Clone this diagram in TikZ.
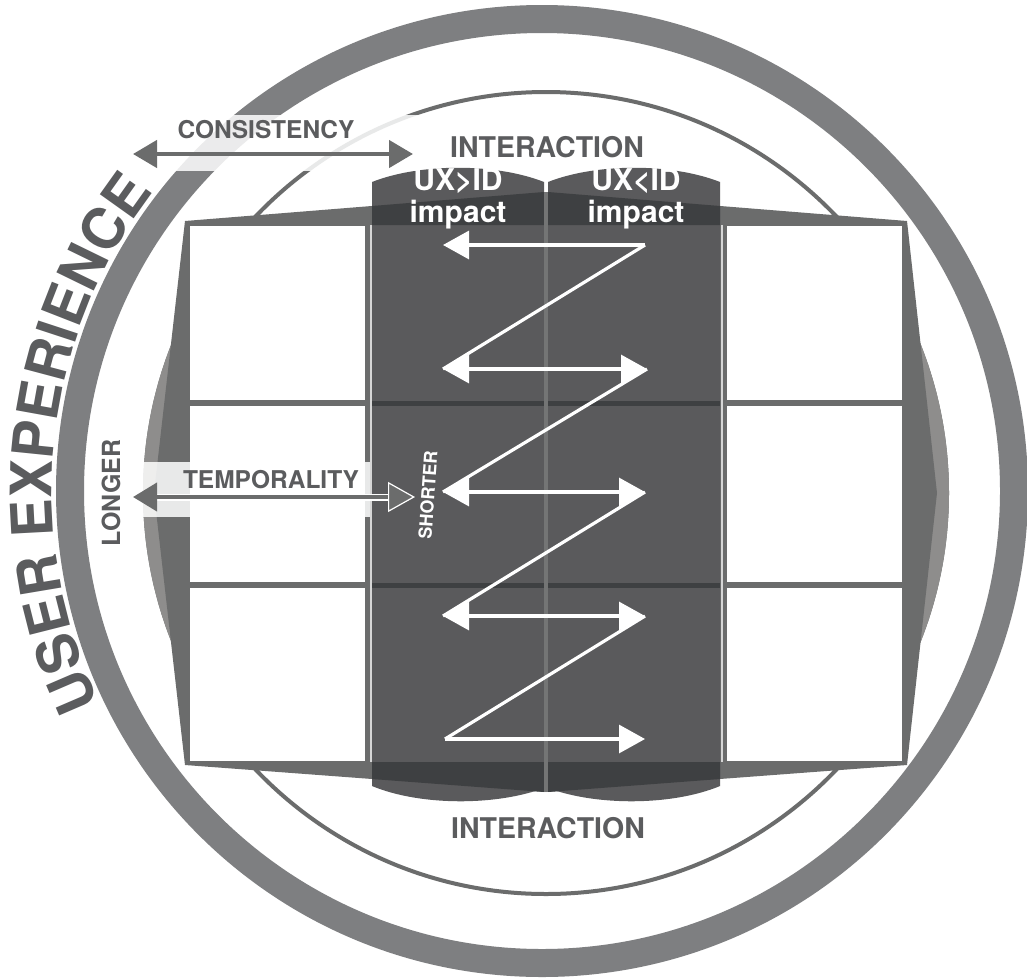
\documentclass[tikz,border=0pt]{standalone}
\usepackage{fontspec}
\setmainfont{TeX Gyre Heros}
\usetikzlibrary{arrows.meta,decorations.text,calc}
\definecolor{ringc}{HTML}{7E7F81}
\definecolor{framec}{HTML}{6B6C6C}
\definecolor{lensc}{HTML}{8E8D8C}
\definecolor{colc}{HTML}{5A5A5C}
\definecolor{bandc}{HTML}{3E4042}
\definecolor{txtc}{HTML}{5B5C5E}
\definecolor{divc}{HTML}{747575}
\definecolor{edgec}{HTML}{D6D6D6}
\newcommand\myUEfont{\fontsize{57}{60}\selectfont\bfseries}
\begin{document}
\begin{tikzpicture}[x=1pt,y=-1pt,
  lbl/.style={text=txtc, inner sep=0pt, font=\bfseries\fontsize{24.5}{26}\selectfont},
  biglbl/.style={text=txtc, inner sep=0pt, font=\bfseries\fontsize{28.5}{30}\selectfont},
  uxlbl/.style={text=white, inner sep=0pt, font=\bfseries\fontsize{30}{32}\selectfont},
  zz/.style={white, line width=3.2},
  wtipL/.style={{Triangle[length=26pt,width=28pt]}-},
  wtipR/.style={-{Triangle[length=26pt,width=28pt]}},
  wtipLR/.style={{Triangle[length=26pt,width=28pt]}-{Triangle[length=26pt,width=28pt]}},
  grayarrow/.style={framec, line width=4.5, {Triangle[length=24pt,width=27pt]}-{Triangle[length=24pt,width=27pt]}}
]
\useasboundingbox (0,0) rectangle (1027,977);
\fill[white] (0,0) rectangle (1027,977);
\coordinate (C) at (542,491);
\coordinate (C2) at (546,493);
% outer ring
\draw[ringc, line width=28] (C) circle[radius=472];
% thin circle
\draw[framec, line width=4] (C2) circle[radius=401];
% side lenses
\begin{scope}
\clip (C2) circle[radius=403];
\fill[lensc] (130,250) rectangle (190,740);
\fill[lensc] (902,250) rectangle (962,740);
\end{scope}
% frame
\fill[framec] (185,221) -- (546,192) -- (907,221) -- (937,493) -- (907,765) -- (546,792) -- (185,765) -- (154,493) -- cycle;
% white boxes
\foreach \ya/\yb in {226/400, 406/582, 588/761} {
  \fill[white] (190,\ya) rectangle (365,\yb);
  \fill[white] (727,\ya) rectangle (902,\yb);
}
\draw[edgec, line width=2] (370.5,225) -- (370.5,762);
\draw[edgec, line width=2] (721.5,225) -- (721.5,762);
% dark columns
\fill[colc] (372,182) .. controls (420,163) and (496,163) .. (544,182) -- (544,788) .. controls (496,806) and (420,806) .. (372,786) -- cycle;
\fill[colc] (548,182) .. controls (596,163) and (672,163) .. (720,182) -- (720,786) .. controls (672,806) and (596,806) .. (548,788) -- cycle;
% overlap bands
\fill[bandc] (372,206) -- (544,192) -- (544,225) -- (372,225) -- cycle;
\fill[bandc] (548,192) -- (720,206) -- (720,225) -- (548,225) -- cycle;
\fill[bandc] (372,762) -- (544,762) -- (544,792) -- (372,779) -- cycle;
\fill[bandc] (548,762) -- (720,762) -- (720,779) -- (548,792) -- cycle;
\foreach \yy in {403,585} {
  \fill[bandc] (372,\yy-2.5) rectangle (544,\yy+2.5);
  \fill[bandc] (548,\yy-2.5) rectangle (720,\yy+2.5);
}
% divider
\draw[divc, line width=4] (546,192) -- (546,792);
% light bands behind the axis labels
\fill[white, opacity=0.85] (128,115) rectangle (418,171);
\fill[white, opacity=0.85] (128,462) rectangle (370,517);
% consistency arrow
\coordinate (cL) at (133,154);
\coordinate (cR) at (413,154);
\draw[grayarrow] (cL) -- (cR);
% temporality arrow
\coordinate (tL) at (133,497);
\coordinate (tR) at (415,497);
\draw[white, line width=7, shorten <=20pt, shorten >=22pt] (tL) -- (tR);
\draw[framec, line width=4, {Triangle[length=24pt,width=28pt]}-{Triangle[length=27pt,width=30pt,fill=framec,color=white,line width=1.2pt]}] (tL) -- (tR);
% zigzag
\coordinate (a1L) at (443,245); \coordinate (a1R) at (645,245);
\coordinate (a2L) at (443,369); \coordinate (a2R) at (647,369);
\coordinate (a3L) at (443,492); \coordinate (a3R) at (645,492);
\coordinate (a4L) at (443,616); \coordinate (a4R) at (645,616);
\coordinate (a5L) at (445,739); \coordinate (a5R) at (645,739);
\draw[zz, wtipL] (a1L) -- (a1R);
\draw[zz] (a1R) -- (a2L);
\draw[zz, wtipLR] (a2L) -- (a2R);
\draw[zz] (a2R) -- (a3L);
\draw[zz, wtipLR] (a3L) -- (a3R);
\draw[zz] (a3R) -- (a4L);
\draw[zz, wtipLR] (a4L) -- (a4R);
\draw[zz] (a4R) -- (a5L);
\draw[zz, wtipR] (a5L) -- (a5R);
% labels
\node[biglbl, anchor=base] (intT) at (547,157) {INTERACTION};
\node[biglbl, anchor=base] (intB) at (548,838) {INTERACTION};
\node[uxlbl, anchor=base] (ux1) at (458,190) {UX>ID};
\node[uxlbl, anchor=base] (im1) at (458,222) {impact};
\node[uxlbl, anchor=base] (ux2) at (636,190) {UX<ID};
\node[uxlbl, anchor=base] (im2) at (636,222) {impact};
\node[lbl, anchor=base] (cons) at (266,138) {CONSISTENCY};
\node[lbl, anchor=base] (temp) at (271,488) {TEMPORALITY};
\node[lbl, rotate=90, font=\bfseries\fontsize{25}{26}\selectfont] (long) at (111,493) {LONGER};
\node[text=white, inner sep=0pt, rotate=86, font=\bfseries\fontsize{18}{20}\selectfont] (short) at (428,495) {SHORTER};
% curved title
\path[decorate, decoration={text along path, text={|\myUEfont|USER EXPERIENCE}, text align=center, text color=txtc}]
  ($(C)+(146:490)$) arc[start angle=146, end angle=226, radius=490];
\end{tikzpicture}
\end{document}
